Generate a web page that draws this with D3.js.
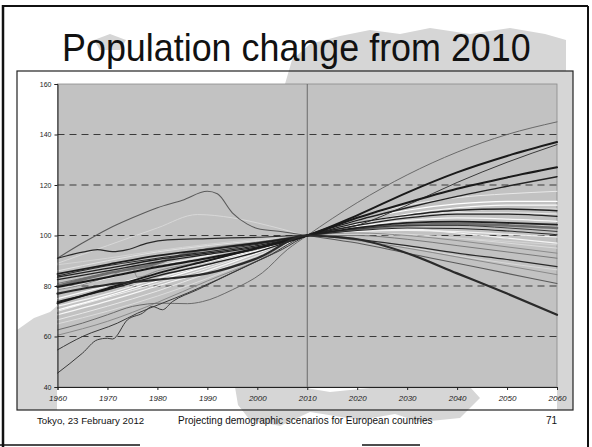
<!DOCTYPE html>
<html>
<head>
<meta charset="utf-8">
<script src="https://cdn.jsdelivr.net/npm/d3@7"></script>
<style>
  html, body { margin: 0; padding: 0; background: #fff; }
  svg { display: block; }
  text { font-family: "Liberation Sans", Arial, sans-serif; }
</style>
</head>
<body>
<svg id="slide" width="592" height="447"></svg>
<script>
// Population index, 2010 = 100 — history 1960-2010, projection 2010-2060
const s01 = [[1960,91],[1965,97],[1970,102.5],[1975,107],[1980,111],[1985,114],[1990,117.5],[1992,116.5],[1995,109],[1998,104.5],[2000,102.8],[2005,101.5],[2010,100],[2020,97],[2030,93],[2040,89],[2050,85],[2060,81]];
const s02 = [[1960,89],[1970,96],[1980,103],[1988,108.3],[1995,107],[2000,105],[2005,102.5],[2010,100],[2020,98.5],[2030,95.5],[2040,92],[2050,89],[2060,86.4]];
const s03 = [[1960,91],[1965,93.4],[1968,94.4],[1971,93.6],[1974,94.4],[1978,97],[1982,98.3],[1990,98.8],[2000,99.3],[2010,100],[2020,98.5],[2030,96],[2040,93],[2050,90.5],[2060,87.7]];
const s04 = [[1960,84.8],[1970,88.5],[1980,92],[1990,94.5],[2000,97],[2010,100],[2020,103],[2030,105],[2040,105.5],[2050,105],[2060,104.3]];
const s05 = [[1960,83.5],[1970,87],[1980,90.5],[1990,93],[2000,96],[2010,100],[2020,105],[2030,108],[2040,110],[2050,110.5],[2060,109.8]];
const s06 = [[1960,82.5],[1970,86],[1980,89.5],[1990,92.5],[2000,95.5],[2010,100],[2020,104],[2030,107],[2040,108.5],[2050,108.5],[2060,107.6]];
const s07 = [[1960,79.6],[1970,83.5],[1980,87.5],[1990,91],[2000,95],[2010,100],[2020,108],[2030,117],[2040,125],[2050,131.5],[2060,137]];
const s08 = [[1960,77],[1970,80.5],[1980,82.5],[1990,85],[2000,91],[2010,100],[2015,99.5],[2020,98.5],[2030,93],[2040,85],[2050,77],[2060,68.6]];
const s09 = [[1960,73.2],[1970,79],[1980,85],[1990,90],[2000,95],[2010,100],[2020,107],[2030,113],[2040,118.5],[2050,123],[2060,127]];
const s10 = [[1960,73.8],[1970,78.5],[1980,84],[1990,88.5],[2000,93.5],[2010,100],[2020,106],[2030,111],[2040,115.5],[2050,119.5],[2060,123.3]];
const s11 = [[1960,62.6],[1965,65.3],[1970,68.6],[1975,71.9],[1981,73.2],[1986,73],[1989,73.8],[1995,78.5],[2001,85.2],[2006,94.4],[2010,100],[2020,113],[2030,124],[2040,133],[2050,140],[2060,145]];
const s12 = [[1960,54.7],[1965,60],[1972,65.3],[1976,69.2],[1981,73.2],[1986,77.2],[1992,82.5],[1999,89],[2005,94.5],[2010,100],[2020,104],[2030,112],[2040,121],[2050,129],[2060,136]];
const s13 = [[1960,45.5],[1965,53.4],[1968,58.7],[1970,59.3],[1971,59],[1974,66.6],[1977,69.2],[1979,71.9],[1981,70.6],[1983,73.8],[1988,78.5],[1995,85.2],[2002,91.7],[2010,100],[2020,102.5],[2030,104],[2040,104],[2050,103],[2060,101.6]];
const s14 = [[1960,88.4],[1970,91],[1980,94],[1990,96.5],[2000,98.5],[2010,100],[2020,100.5],[2030,100],[2040,99],[2050,97.7],[2060,96.3]];
const s15 = [[1960,78.5],[1970,83],[1980,88],[1990,92],[2000,96],[2010,100],[2020,101.5],[2030,102],[2040,101.5],[2050,100.5],[2060,99.4]];
const s16 = [[1960,70.5],[1970,76],[1980,82],[1990,88],[2000,94],[2010,100],[2020,106],[2030,110],[2040,112.5],[2050,113.5],[2060,113.5]];
const s17 = [[1960,68.6],[1970,74],[1980,80],[1990,86],[2000,93],[2010,100],[2020,103.5],[2030,106],[2040,107],[2050,106.5],[2060,105.6]];
const s18 = [[1960,66.6],[1970,72],[1980,78],[1990,85],[2000,92],[2010,100],[2020,107],[2030,112],[2040,115],[2050,116.5],[2060,117.5]];
const s19 = [[1960,78.5],[1965,80.5],[1970,83.5],[1975,87],[1976,83.5],[1980,86],[1990,90],[2000,95],[2010,100],[2020,101],[2030,100],[2040,98],[2050,95.5],[2060,93]];
const s20 = [[1960,80],[1970,85],[1980,89],[1986,93],[1990,94.5],[2000,97],[2010,100],[2020,102.5],[2030,104],[2040,104.5],[2050,104],[2060,103]];
const s21 = [[1960,84],[1970,88],[1980,91],[1990,93.5],[2000,96.5],[2010,100],[2020,102],[2030,103],[2040,102.8],[2050,101.8],[2060,100.3]];
const s22 = [[1960,75],[1970,80],[1980,85],[1990,89.5],[2000,94.5],[2010,100],[2020,104.5],[2030,108.5],[2040,111],[2050,112],[2060,112]];
const s23 = [[1960,72],[1970,77],[1980,83],[1990,88.5],[2000,94],[2010,100],[2020,102],[2030,102.5],[2040,101],[2050,99],[2060,97]];
const s24 = [[1960,65],[1970,70],[1980,76],[1990,83],[2000,91],[2010,100],[2020,101],[2030,100.5],[2040,99],[2050,97],[2060,95]];
const s25 = [[1960,60.5],[1970,66],[1980,73.5],[1990,82],[2000,90],[2010,100],[2020,98],[2030,95],[2040,91.5],[2050,88],[2060,84.5]];
const s26 = [[1960,86],[1970,90],[1980,93.5],[1990,96],[2000,98],[2010,100],[2020,104],[2030,107.5],[2040,109.5],[2050,110.5],[2060,110.5]];
const s27 = [[1960,70],[1970,75.5],[1980,81],[1990,87],[2000,93.5],[2010,100],[2020,105],[2030,108],[2040,109],[2050,109],[2060,108.5]];
const s28 = [[1960,81],[1970,85],[1980,88],[1990,91],[2000,94.5],[2010,100],[2020,100],[2030,98.5],[2040,96],[2050,93.5],[2060,91]];

const yearTicks = [1960,1970,1980,1990,2000,2010,2020,2030,2040,2050,2060];
const indexTicks = [40,60,80,100,120,140,160];
const gridLevels = [60,80,100,120,140];

const titleText = "Population change from 2010";
const footerLeft = "Tokyo, 23 February 2012";
const footerMid = "Projecting demographic scenarios for European countries";
const pageNo = "71";

// drawing order: light lines underneath, dark lines on top
const lines = [
  {d: s24, c: "#dcdcdc", w: 1},
  {d: s18, c: "#e8e8e8", w: 1},
  {d: s27, c: "#eeeeee", w: 1},
  {d: s23, c: "#f4f4f4", w: 1.2},
  {d: s17, c: "#f7f7f7", w: 1.2},
  {d: s16, c: "#ffffff", w: 1.2},
  {d: s22, c: "#fafafa", w: 1.2},
  {d: s15, c: "#f2f2f2", w: 1.2},
  {d: s14, c: "#d4d4d4", w: 1},
  {d: s02, c: "#d8d8d8", w: 1},
  {d: s26, c: "#e2e2e2", w: 1},
  {d: s25, c: "#8a8a8a", w: 1},
  {d: s28, c: "#7a7a7a", w: 1},
  {d: s19, c: "#8c8c8c", w: 1},
  {d: s11, c: "#6a6a6a", w: 1},
  {d: s01, c: "#5a5a5a", w: 1.1},
  {d: s20, c: "#6e6e6e", w: 2.6},
  {d: s12, c: "#3a3a3a", w: 1},
  {d: s13, c: "#3a3a3a", w: 1},
  {d: s21, c: "#2a2a2a", w: 1.1},
  {d: s03, c: "#2a2a2a", w: 1.2},
  {d: s06, c: "#222222", w: 1.3},
  {d: s05, c: "#222222", w: 1.3},
  {d: s04, c: "#1e1e1e", w: 1.8},
  {d: s10, c: "#222222", w: 1.4},
  {d: s09, c: "#1a1a1a", w: 2},
  {d: s07, c: "#1a1a1a", w: 2},
  {d: s08, c: "#2a2a2a", w: 2.2}
];

const svg = d3.select("#slide");

// slide border
const border = svg.append("g").attr("stroke", "#111").attr("fill", "none");
border.append("line").attr("x1", 3).attr("x2", 3).attr("y1", 5).attr("y2", 447).attr("stroke-width", 2.5);
border.append("line").attr("x1", 3).attr("x2", 588).attr("y1", 6).attr("y2", 6).attr("stroke-width", 2);
border.append("line").attr("x1", 588).attr("x2", 588).attr("y1", 6).attr("y2", 447).attr("stroke-width", 2);
border.append("line").attr("x1", 0).attr("x2", 140).attr("y1", 445).attr("y2", 445).attr("stroke-width", 1.5);
border.append("line").attr("x1", 362).attr("x2", 420).attr("y1", 445).attr("y2", 445).attr("stroke-width", 1.5);

// chart frame
const frame = {x0: 17, y0: 71, x1: 573, y1: 410};
svg.append("rect")
  .attr("x", frame.x0).attr("y", frame.y0)
  .attr("width", frame.x1 - frame.x0).attr("height", frame.y1 - frame.y0)
  .attr("fill", "#fff");

// faint map watermark behind the chart
const wm = svg.append("g").attr("fill", "#d6d6d6").attr("stroke", "none");
wm.append("path").attr("d", "M285,84 L292,60 L310,44 L340,36 L370,30 L400,34 L430,28 L470,34 L510,28 L545,34 L566,40 L566,84 Z");
wm.append("path").attr("d", "M94,40 L110,34 L126,40 L120,50 L100,50 Z");
wm.append("path").attr("d", "M17,330 L34,318 L50,312 L57,306 L57,410 L17,410 Z");
wm.append("path").attr("d", "M557,71 L573,71 L573,410 L557,410 Z");
wm.append("path").attr("d", "M235,387 L300,387 L330,392 L380,387 L470,387 L480,398 L460,418 L420,422 L395,414 L360,420 L310,412 L280,426 L250,420 L238,405 Z");

// plot area
const margin = {left: 57.5, right: 557, top: 84, bottom: 387};
const x = d3.scaleLinear().domain([1960, 2060]).range([margin.left, margin.right]);
const y = d3.scaleLinear().domain([40, 160]).range([margin.bottom, margin.top]);

svg.append("rect")
  .attr("x", x(1960)).attr("y", y(160))
  .attr("width", x(2060) - x(1960)).attr("height", y(40) - y(160))
  .attr("fill", "#c2c2c2").attr("stroke", "#8a8a8a").attr("stroke-width", 0.8);

// dashed gridlines
svg.append("g").selectAll("line").data(gridLevels).join("line")
  .attr("x1", x(1960)).attr("x2", x(2060))
  .attr("y1", d => y(d)).attr("y2", d => y(d))
  .attr("stroke", "#3a3a3a").attr("stroke-width", 1)
  .attr("stroke-dasharray", "7,5");

// base year marker
svg.append("line")
  .attr("x1", x(2010)).attr("x2", x(2010))
  .attr("y1", y(160)).attr("y2", y(40))
  .attr("stroke", "#6a6a6a").attr("stroke-width", 1);

// series
const lineGen = d3.line().x(d => x(d[0])).y(d => y(d[1])).curve(d3.curveMonotoneX);
svg.append("g").attr("fill", "none").attr("stroke-linejoin", "round").attr("stroke-linecap", "round")
  .selectAll("path").data(lines).join("path")
  .attr("d", s => lineGen(s.d))
  .attr("stroke", s => s.c)
  .attr("stroke-width", s => s.w);

// axes
const yAxis = svg.append("g").attr("transform", `translate(${x(1960)},0)`)
  .call(d3.axisLeft(y).tickValues(indexTicks).tickSize(3).tickPadding(3));
yAxis.select(".domain").attr("stroke", "#222");
yAxis.selectAll(".tick line").attr("stroke", "#222");
yAxis.selectAll("text").attr("font-size", 7).attr("fill", "#222")
  .attr("font-family", "Liberation Sans, Arial, sans-serif");

const xAxis = svg.append("g").attr("transform", `translate(0,${y(40)})`)
  .call(d3.axisBottom(x).tickValues(yearTicks).tickFormat(d3.format("d")).tickSize(3).tickPadding(5));
xAxis.select(".domain").attr("stroke", "#222");
xAxis.selectAll(".tick line").attr("stroke", "#222");
xAxis.selectAll("text").attr("font-size", 8).attr("font-style", "italic").attr("fill", "#222")
  .attr("font-family", "Liberation Sans, Arial, sans-serif");

// frame outline
svg.append("rect")
  .attr("x", frame.x0).attr("y", frame.y0)
  .attr("width", frame.x1 - frame.x0).attr("height", frame.y1 - frame.y0)
  .attr("fill", "none").attr("stroke", "#222").attr("stroke-width", 1.2);

// title, slightly condensed
svg.append("g").attr("transform", "translate(62,61) scale(0.92,1)")
  .append("text")
  .attr("x", 0).attr("y", 0)
  .attr("font-size", 39).attr("fill", "#111")
  .text(titleText);

// footer
const foot = svg.append("g").attr("fill", "#111");
foot.append("text").attr("x", 37).attr("y", 424).attr("font-size", 9.7).text(footerLeft);
foot.append("text").attr("x", 178).attr("y", 424).attr("font-size", 10).text(footerMid);
foot.append("text").attr("x", 557).attr("y", 424).attr("font-size", 10).attr("text-anchor", "end").text(pageNo);
</script>
</body>
</html>
